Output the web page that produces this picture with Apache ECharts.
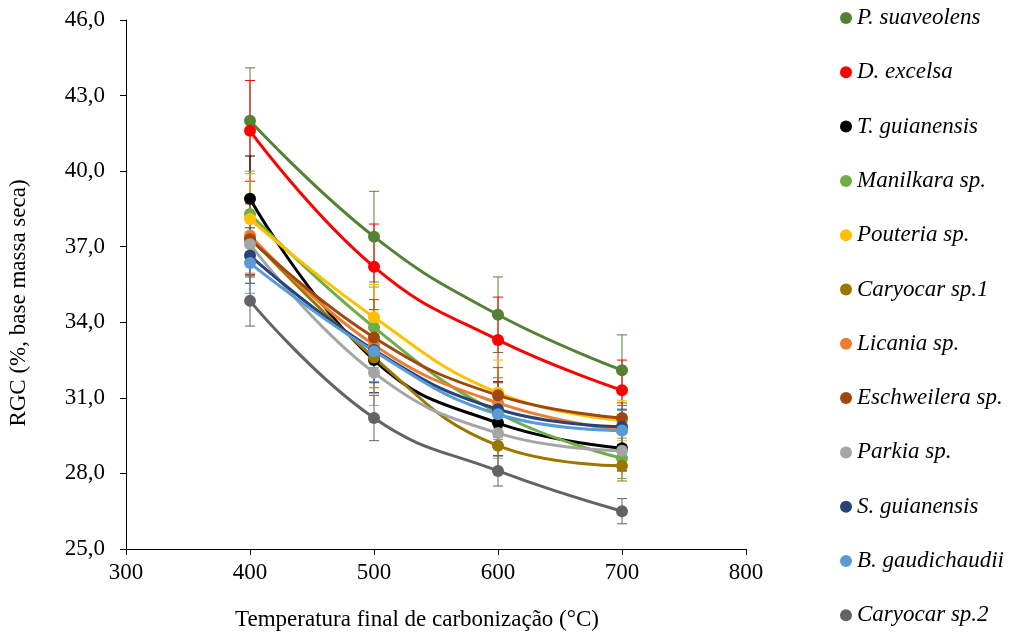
<!DOCTYPE html>
<html>
<head>
<meta charset="utf-8">
<script src="https://cdn.jsdelivr.net/npm/echarts@6/dist/echarts.min.js"></script>
<style>html,body{margin:0;padding:0;background:#fff}#c{width:1020px;height:637px}</style>
</head>
<body>
<div id="c"></div>
<script>
const temps = [400, 500, 600, 700];
const names = ['P. suaveolens','D. excelsa','T. guianensis','Manilkara sp.','Pouteria sp.','Caryocar sp.1','Licania sp.','Eschweilera sp.','Parkia sp.','S. guianensis','B. gaudichaudii','Caryocar sp.2'];
const colors = ['#548235','#FF0000','#000000','#70AD47','#FFC000','#9C7700','#ED7D31','#9E480E','#A5A5A5','#264478','#5B9BD5','#636363'];

const pSuaveolens   = [42.0, 37.4, 34.3, 32.1];
const dExcelsa      = [41.6, 36.2, 33.3, 31.3];
const tGuianensis   = [38.9, 32.5, 30.0, 29.0];
const manilkara     = [38.3, 33.8, 30.4, 28.6];
const pouteria      = [38.1, 34.2, 31.2, 30.1];
const caryocar1     = [37.4, 32.6, 29.1, 28.3];
const licania       = [37.45, 33.1, 30.8, 29.7];
const eschweilera   = [37.3, 33.4, 31.1, 30.2];
const parkia        = [37.1, 32.0, 29.6, 28.9];
const sGuianensis   = [36.65, 32.9, 30.55, 29.85];
const bGaudichaudii = [36.35, 32.85, 30.35, 29.7];
const caryocar2     = [34.85, 30.2, 28.1, 26.5];

const errPSuaveolens   = [2.1, 1.8, 1.5, 1.4];
const errDExcelsa      = [2.0, 1.7, 1.7, 1.2];
const errTGuianensis   = [1.7, 1.3, 1.3, 0.9];
const errManilkara     = [1.7, 1.6, 1.4, 0.8];
const errPouteria      = [1.8, 1.3, 1.3, 0.8];
const errCaryocar1     = [1.6, 1.2, 1.0, 0.6];
const errLicania       = [1.5, 1.2, 1.0, 0.8];
const errEschweilera   = [1.4, 1.5, 1.1, 0.6];
const errParkia        = [1.3, 1.3, 1.0, 0.7];
const errSGuianensis   = [1.1, 1.3, 1.1, 0.7];
const errBGaudichaudii = [1.2, 1.2, 1.0, 0.8];
const errCaryocar2     = [1.0, 0.9, 0.6, 0.5];

const yTicks = [25, 28, 31, 34, 37, 40, 43, 46];
const xTicks = [300, 400, 500, 600, 700, 800];

const values = [pSuaveolens, dExcelsa, tGuianensis, manilkara, pouteria, caryocar1, licania, eschweilera, parkia, sGuianensis, bGaudichaudii, caryocar2];
const errors = [errPSuaveolens, errDExcelsa, errTGuianensis, errManilkara, errPouteria, errCaryocar1, errLicania, errEschweilera, errParkia, errSGuianensis, errBGaudichaudii, errCaryocar2];

const FONT = '"Liberation Serif", "Times New Roman", serif';

const errSeries = names.map((n, i) => ({
  type: 'custom',
  name: n + ' (erro)',
  z: 1,
  silent: true,
  data: temps.map((t, j) => [t, values[i][j] - errors[i][j], values[i][j] + errors[i][j]]),
  renderItem: function (params, api) {
    const lo = api.coord([api.value(0), api.value(1)]);
    const hi = api.coord([api.value(0), api.value(2)]);
    const w = 5;
    const st = { stroke: colors[i], lineWidth: 1 };
    return { type: 'group', children: [
      { type: 'line', shape: { x1: lo[0], y1: lo[1], x2: hi[0], y2: hi[1] }, style: st },
      { type: 'line', shape: { x1: lo[0] - w, y1: lo[1], x2: lo[0] + w, y2: lo[1] }, style: st },
      { type: 'line', shape: { x1: hi[0] - w, y1: hi[1], x2: hi[0] + w, y2: hi[1] }, style: st }
    ]};
  }
}));

const lineSeries = names.map((n, i) => ({
  type: 'line',
  name: n,
  z: 3,
  smooth: 0.45,
  data: temps.map((t, j) => [t, values[i][j]]),
  symbol: 'circle',
  symbolSize: 12,
  itemStyle: { color: colors[i] },
  lineStyle: { color: colors[i], width: 3 }
}));

const chart = echarts.init(document.getElementById('c'), null, { renderer: 'canvas' });
chart.setOption({
  animation: false,
  backgroundColor: '#fff',
  textStyle: { fontFamily: FONT },
  grid: { left: 126, right: 274, top: 20, bottom: 88 },
  legend: {
    orient: 'vertical',
    left: 840,
    top: 6,
    padding: 0,
    icon: 'circle',
    itemWidth: 12,
    itemHeight: 12,
    itemGap: 30.3,
    itemStyle: { borderWidth: 0 },
    textStyle: { fontFamily: FONT, fontSize: 23, fontStyle: 'italic', color: '#000', lineHeight: 24 },
    itemTextGap: 6,
    data: names
  },
  xAxis: {
    type: 'value',
    min: 300, max: 800, interval: 100,
    axisLine: { show: true, lineStyle: { color: '#000', width: 1 } },
    axisTick: { show: true, inside: false, length: 6, lineStyle: { color: '#000' } },
    axisLabel: { fontFamily: FONT, fontSize: 23, color: '#000', margin: 12,
      formatter: v => xTicks.includes(v) ? String(v) : '' },
    splitLine: { show: false }
  },
  yAxis: {
    type: 'value',
    min: 25, max: 46, interval: 3,
    axisLine: { show: true, lineStyle: { color: '#000', width: 1 } },
    axisTick: { show: true, inside: false, length: 6, lineStyle: { color: '#000' } },
    axisLabel: { fontFamily: FONT, fontSize: 23, color: '#000', margin: 21,
      formatter: v => yTicks.includes(v) ? v.toFixed(1).replace('.', ',') : '' },
    splitLine: { show: false }
  },
  graphic: [
    { type: 'text', x: 417, y: 620, style: { text: 'Temperatura final de carbonização (°C)', font: '23px ' + FONT, fill: '#000', textAlign: 'center', textVerticalAlign: 'middle' } },
    { type: 'text', x: 19, y: 303, rotation: Math.PI / 2, style: { text: 'RGC (%, base massa seca)', font: '23px ' + FONT, fill: '#000', textAlign: 'center', textVerticalAlign: 'middle' } }
  ],
  series: errSeries.concat(lineSeries)
});
</script>
</body>
</html>
